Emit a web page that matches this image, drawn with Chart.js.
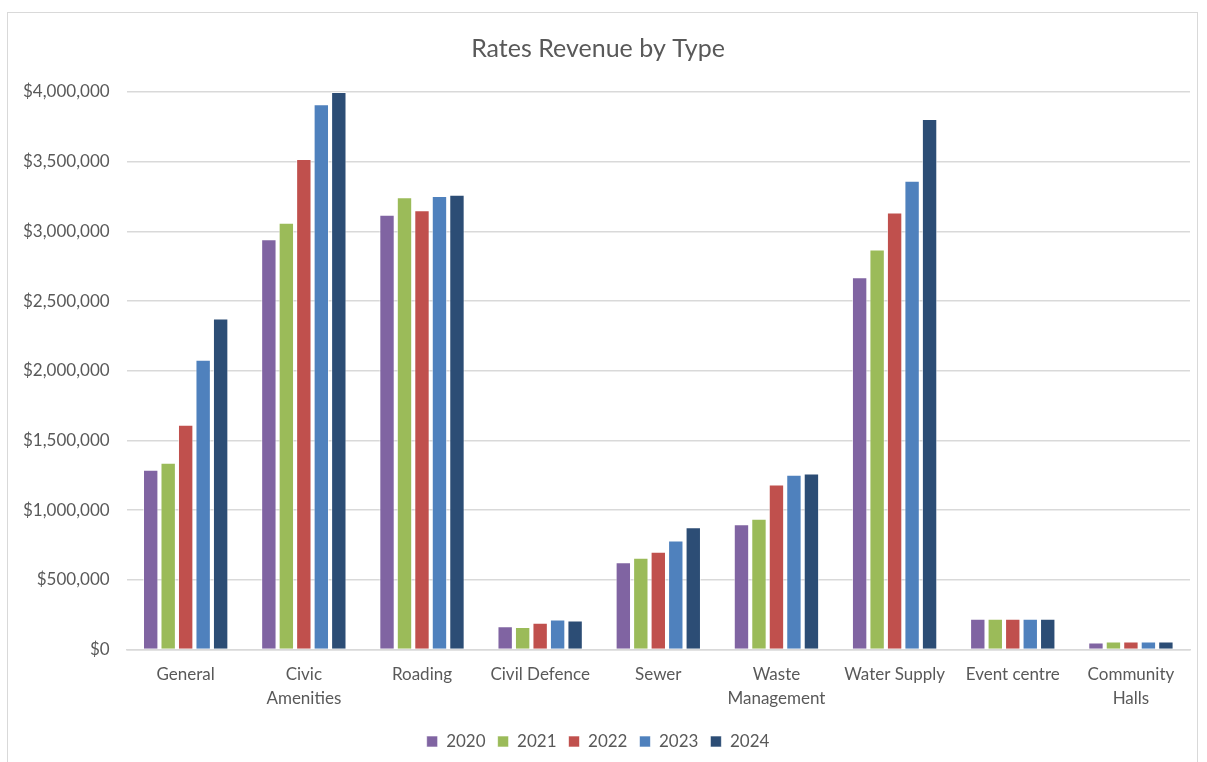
<!DOCTYPE html>
<html>
<head>
<meta charset="utf-8">
<script src="https://cdn.jsdelivr.net/npm/chart.js@4/dist/chart.umd.min.js"></script>
<style>
  html, body { margin: 0; padding: 0; background: #fff; }
  #frame {
    position: absolute; left: 7px; top: 12px; width: 1191px; height: 760px;
    border: 1.5px solid #d9d9d9; box-sizing: border-box;
  }
  #wrap { position: absolute; left: 0; top: 0; width: 1207px; height: 762px; }
</style>
</head>
<body>
<div id="frame"></div>
<div id="wrap"><canvas id="ratesChart"></canvas></div>
<script>
const categories = ["General", ["Civic", "Amenities"], "Roading", "Civil Defence", "Sewer",
  ["Waste", "Management"], "Water Supply", "Event centre", ["Community", "Halls"]]
const years = ["2020", "2021", "2022", "2023", "2024"]
const colors = ["#8064A2", "#9BBB59", "#C0504D", "#4F81BD", "#2C4D75"]

const values2020 = [1290000, 2944000, 3120000, 167000, 626000, 898000, 2671000, 220000, 50000]
const values2021 = [1340000, 3061000, 3245000, 160000, 657000, 937000, 2870000, 220000, 57000]
const values2022 = [1613000, 3520000, 3152000, 191000, 700000, 1183000, 3135000, 220000, 57000]
const values2023 = [2079000, 3912000, 3254000, 215000, 781000, 1254000, 3364000, 220000, 57000]
const values2024 = [2375000, 4000000, 3262000, 208000, 877000, 1262000, 3806000, 220000, 57000]

const series = [values2020, values2021, values2022, values2023, values2024]
const textColor = "#595959"
const fontFamily = "Lato, 'Open Sans', sans-serif"

function formatDollars(value){
  return "$" + Number(value).toLocaleString("en-US")
}

new Chart(document.getElementById("ratesChart"), {
  type: "bar",
  data: {
    labels: categories,
    datasets: series.map((data, i) => ({
      label: years[i],
      data: data,
      backgroundColor: colors[i],
      borderColor: "rgba(255,255,255,0.6)",
      borderWidth: 1,
      categoryPercentage: 0.74,
      barPercentage: 0.88
    }))
  },
  options: {
    responsive: true,
    maintainAspectRatio: false,
    animation: false,
    layout: { padding: { left: 6, right: 17, top: 24, bottom: 2 } },
    plugins: {
      title: {
        display: true,
        text: "Rates Revenue by Type",
        color: textColor,
        font: { family: fontFamily, size: 25, weight: "normal" },
        padding: { top: 10, bottom: 28 }
      },
      legend: {
        position: "bottom",
        labels: {
          color: textColor,
          font: { family: fontFamily, size: 17 },
          boxWidth: 11,
          boxHeight: 11,
          padding: 12
        }
      },
      tooltip: { enabled: false }
    },
    scales: {
      x: {
        grid: { display: false },
        border: { color: "#d9d9d9", width: 1.5 },
        ticks: {
          color: textColor,
          font: { family: fontFamily, size: 17, lineHeight: 1.4 },
          maxRotation: 0,
          autoSkip: false,
          padding: 5
        },
        afterFit(scale){
          scale.height += 6
        }
      },
      y: {
        min: 0,
        max: 4000000,
        grid: { color: "#d9d9d9", lineWidth: 1.5, drawTicks: false },
        border: { display: false },
        ticks: {
          stepSize: 500000,
          color: textColor,
          font: { family: fontFamily, size: 17 },
          padding: 17,
          callback: formatDollars
        }
      }
    }
  }
})
</script>
</body>
</html>
